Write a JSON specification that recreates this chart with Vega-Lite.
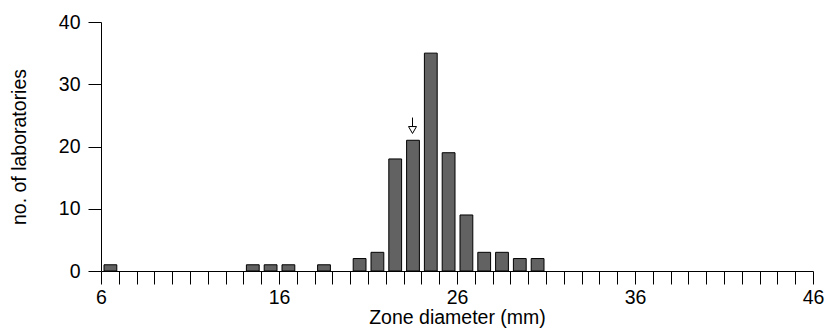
{
  "$schema": "https://vega.github.io/schema/vega-lite/v6.json",
  "autosize": "none",
  "width": 712,
  "height": 249,
  "padding": {"left": 101, "top": 22, "right": 14, "bottom": 58},
  "background": "white",
  "config": {
    "view": {"stroke": null},
    "font": "Liberation Sans",
    "axis": {
      "grid": false,
      "domainColor": "black",
      "domainWidth": 1,
      "tickColor": "black",
      "tickWidth": 1,
      "tickSize": 13,
      "labelFont": "Liberation Sans",
      "labelFontSize": 19.5,
      "labelColor": "black",
      "labelFontWeight": "normal",
      "titleFont": "Liberation Sans",
      "titleFontSize": 19.5,
      "titleFontWeight": "normal",
      "titleColor": "black"
    }
  },
  "datasets": {
    "bars": [
      {"lo": 6, "hi": 7, "n": 1},
      {"lo": 14, "hi": 15, "n": 1},
      {"lo": 15, "hi": 16, "n": 1},
      {"lo": 16, "hi": 17, "n": 1},
      {"lo": 18, "hi": 19, "n": 1},
      {"lo": 20, "hi": 21, "n": 2},
      {"lo": 21, "hi": 22, "n": 3},
      {"lo": 22, "hi": 23, "n": 18},
      {"lo": 23, "hi": 24, "n": 21},
      {"lo": 24, "hi": 25, "n": 35},
      {"lo": 25, "hi": 26, "n": 19},
      {"lo": 26, "hi": 27, "n": 9},
      {"lo": 27, "hi": 28, "n": 3},
      {"lo": 28, "hi": 29, "n": 3},
      {"lo": 29, "hi": 30, "n": 2},
      {"lo": 30, "hi": 31, "n": 2}
    ],
    "arrow": [
      {"x": 23.5, "top": 24.65, "head": 22.65}
    ]
  },
  "layer": [
    {
      "data": {"name": "bars"},
      "mark": {"type": "bar", "fill": "#626262", "stroke": "black", "strokeWidth": 1, "binSpacing": 5},
      "encoding": {
        "x": {
          "field": "lo",
          "type": "quantitative",
          "bin": {"binned": true, "step": 1},
          "scale": {"domain": [6, 46], "nice": false, "zero": false},
          "axis": {
            "title": "Zone diameter (mm)",
            "values": [6,7,8,9,10,11,12,13,14,15,16,17,18,19,20,21,22,23,24,25,26,27,28,29,30,31,32,33,34,35,36,37,38,39,40,41,42,43,44,45,46],
            "labelExpr": "(datum.value - 6) % 10 == 0 ? format(datum.value, 'd') : ''",
            "labelPadding": 4,
            "labelFlush": false,
            "labelOverlap": false,
            "titlePadding": 2
          }
        },
        "x2": {"field": "hi"},
        "y": {
          "field": "n",
          "type": "quantitative",
          "scale": {"domain": [0, 40], "nice": false},
          "axis": {
            "title": "no. of laboratories",
            "values": [0, 10, 20, 30, 40],
            "labelPadding": 8,
            "titlePadding": 29
          }
        }
      }
    },
    {
      "data": {"name": "arrow"},
      "mark": {"type": "rule", "color": "black", "strokeWidth": 1},
      "encoding": {
        "x": {"field": "x", "type": "quantitative"},
        "y": {"field": "top", "type": "quantitative"},
        "y2": {"field": "head"}
      }
    },
    {
      "data": {"name": "arrow"},
      "mark": {"type": "point", "shape": "triangle-down", "size": 64, "filled": true, "fill": "white", "stroke": "black", "strokeWidth": 1, "opacity": 1},
      "encoding": {
        "x": {"field": "x", "type": "quantitative"},
        "y": {"field": "head", "type": "quantitative"}
      }
    }
  ]
}
